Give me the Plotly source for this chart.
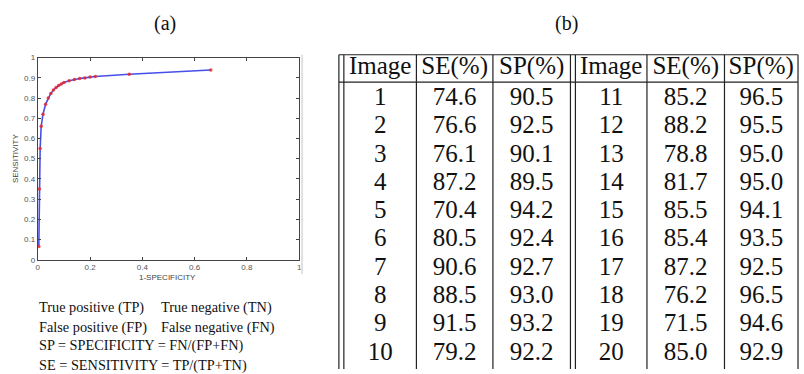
import plotly.graph_objects as go

# ---------------- data ----------------
roc_fpr = [0.004, 0.006, 0.009, 0.013, 0.02, 0.03, 0.04, 0.05, 0.06, 0.07, 0.08,
           0.09, 0.10, 0.12, 0.14, 0.16, 0.18, 0.20, 0.22, 0.35, 0.662]
roc_tpr = [0.065, 0.35, 0.55, 0.66, 0.72, 0.77, 0.80, 0.823, 0.840, 0.852, 0.862,
           0.870, 0.877, 0.886, 0.892, 0.897, 0.900, 0.904, 0.907, 0.918, 0.939]

x_ticks = [0, 0.2, 0.4, 0.6, 0.8, 1]
x_ticklabels = ["0", "0.2", "0.4", "0.6", "0.8", "1"]
y_ticks = [0, 0.1, 0.2, 0.3, 0.4, 0.5, 0.6, 0.7, 0.8, 0.9, 1]
y_ticklabels = ["0", "0.1", "0.2", "0.3", "0.4", "0.5", "0.6", "0.7", "0.8", "0.9", "1"]

images_left = ["1", "2", "3", "4", "5", "6", "7", "8", "9", "10"]
se_left = ["74.6", "76.6", "76.1", "87.2", "70.4", "80.5", "90.6", "88.5", "91.5", "79.2"]
sp_left = ["90.5", "92.5", "90.1", "89.5", "94.2", "92.4", "92.7", "93.0", "93.2", "92.2"]
images_right = ["11", "12", "13", "14", "15", "16", "17", "18", "19", "20"]
se_right = ["85.2", "88.2", "78.8", "81.7", "85.5", "85.4", "87.2", "76.2", "71.5", "85.0"]
sp_right = ["96.5", "95.5", "95.0", "95.0", "94.1", "93.5", "92.5", "96.5", "94.6", "92.9"]
headers = ["Image", "SE(%)", "SP(%)", "Image", "SE(%)", "SP(%)"]

legend_lines = [
    ("True positive (TP)", "True negative (TN)"),
    ("False positive (FP)", "False negative (FN)"),
]
formula_lines = [
    "SP = SPECIFICITY = FN/(FP+FN)",
    "SE = SENSITIVITY = TP/(TP+TN)",
]

# ---------------- layout constants (pixels) ----------------
W, H = 804, 374
col_lines = [339, 344, 417, 494, 572, 577, 649, 727, 801]
col_bounds = [(344, 417), (417, 494), (494, 572), (577, 649), (649, 727), (727, 801)]
table_top, header_bottom = 52, 80
header_y = 65
row_y0, row_pitch = 97, 29.0

serif = "Liberation Serif"
sans = "Liberation Sans"

fig = go.Figure()

# ROC curve
fig.add_trace(go.Scatter(
    x=roc_fpr, y=roc_tpr, mode="lines",
    line=dict(color="rgba(50,60,230,0.9)", width=1.6),
    xaxis="x", yaxis="y", hoverinfo="skip", showlegend=False))
fig.add_trace(go.Scatter(
    x=roc_fpr, y=roc_tpr, mode="markers",
    marker=dict(color="rgba(230,40,50,0.85)", size=3.5),
    xaxis="x", yaxis="y", hoverinfo="skip", showlegend=False))

# table text
columns = [images_left, se_left, sp_left, images_right, se_right, sp_right]
row_centers = [row_y0 + row_pitch * i for i in range(len(images_left))]
for (x0, x1), col, head in zip(col_bounds, columns, headers):
    cx = (x0 + x1) / 2
    fig.add_trace(go.Scatter(
        x=[cx] * (len(col) + 1), y=[header_y] + row_centers,
        text=[head] + col, mode="text", textposition="middle center",
        textfont=dict(family=serif, size=25, color="#111"),
        xaxis="x2", yaxis="y2", hoverinfo="skip", showlegend=False))

shapes = []
for xl in col_lines:
    shapes.append(dict(type="line", xref="x2", yref="y2", x0=xl, x1=xl,
                       y0=table_top, y1=H + 5, line=dict(color="#222", width=1.2)))
for yl in (table_top, header_bottom):
    shapes.append(dict(type="line", xref="x2", yref="y2", x0=col_lines[0], x1=col_lines[-1],
                       y0=yl, y1=yl, line=dict(color="#222", width=1.2)))
# faint border of the left figure panel
shapes.append(dict(type="line", xref="x2", yref="y2", x0=302, x1=302, y0=52, y1=277,
                   line=dict(color="#e0e0e0", width=2)))

annotations = []
annotations.append(dict(x=164, y=20, xref="x2", yref="y2", text="(a)", showarrow=False,
                        font=dict(family=serif, size=20, color="#111")))
annotations.append(dict(x=568, y=20, xref="x2", yref="y2", text="(b)", showarrow=False,
                        font=dict(family=serif, size=20, color="#111")))
annotations.append(dict(x=13, y=158, xref="x2", yref="y2", text="SENSITIVITY", textangle=-90,
                        showarrow=False, font=dict(family=sans, size=8, color="#444")))
annotations.append(dict(x=167, y=280, xref="x2", yref="y2", text="1-SPECIFICITY",
                        showarrow=False, font=dict(family=sans, size=8, color="#444")))
for (left, right), yy in zip(legend_lines, [311, 331]):
    annotations.append(dict(x=35, y=yy, xref="x2", yref="y2", text=left, xanchor="left",
                            showarrow=False, font=dict(family=serif, size=14.3, color="#111")))
    annotations.append(dict(x=158, y=yy, xref="x2", yref="y2", text=right, xanchor="left",
                            showarrow=False, font=dict(family=serif, size=14.3, color="#111")))
for txt, yy in zip(formula_lines, [350, 370]):
    annotations.append(dict(x=35, y=yy, xref="x2", yref="y2", text=txt, xanchor="left",
                            showarrow=False, font=dict(family=serif, size=14.3, color="#111")))

axis_common = dict(showline=True, linecolor="#444", linewidth=1, mirror="ticks",
                   ticks="inside", ticklen=3, tickcolor="#444", showgrid=False,
                   zeroline=False, tickfont=dict(family=sans, size=8, color="#555"))

fig.update_layout(
    width=W, height=H, margin=dict(l=0, r=0, t=0, b=0, pad=0),
    paper_bgcolor="white", plot_bgcolor="rgba(0,0,0,0)",
    xaxis=dict(domain=[36 / W, 299 / W], range=[0, 1], tickvals=x_ticks,
               ticktext=x_ticklabels, anchor="y", **axis_common),
    yaxis=dict(domain=[1 - 262 / H, 1 - 55 / H], range=[0, 1], tickvals=y_ticks,
               ticktext=y_ticklabels, anchor="x", **axis_common),
    xaxis2=dict(domain=[0, 1], range=[0, W], visible=False, anchor="y2"),
    yaxis2=dict(domain=[0, 1], range=[H, 0], visible=False, anchor="x2"),
    shapes=shapes, annotations=annotations, showlegend=False,
)

fig.write_html("out.html", config={"displayModeBar": False},
               post_script="document.body.style.margin='0';")
